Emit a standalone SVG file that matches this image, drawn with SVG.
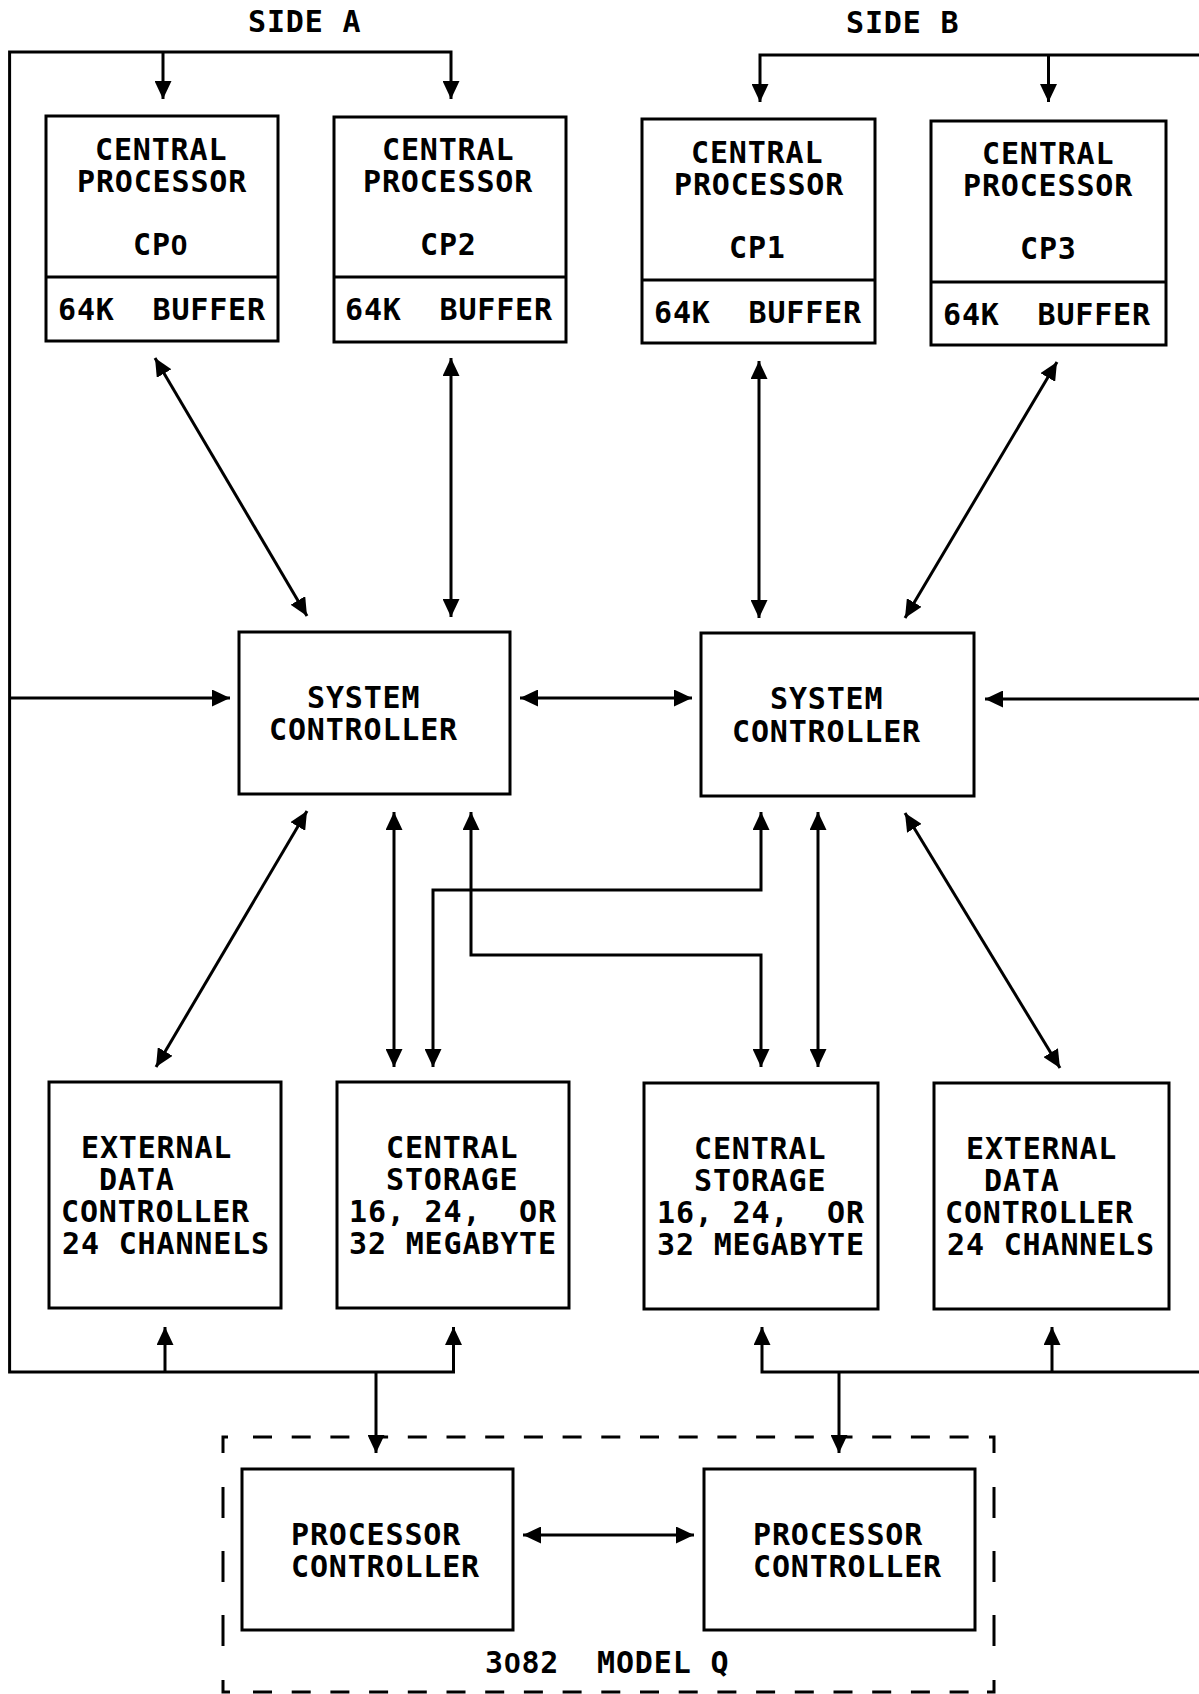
<svg xmlns="http://www.w3.org/2000/svg" width="1199" height="1694" viewBox="0 0 1199 1694">
<style>
.t{font-family:"DejaVu Sans Mono","Liberation Mono",monospace;font-weight:bold;font-size:30px;letter-spacing:0.84px;fill:#000}
.z{font-family:"Liberation Sans","DejaVu Sans",sans-serif}
.box{fill:#fff;stroke:#000;stroke-width:3}
.ln{fill:none;stroke:#000;stroke-width:3;stroke-linejoin:miter}
.dh{fill:none;stroke:#000;stroke-width:3;stroke-dasharray:19 19.7}
.dv{fill:none;stroke:#000;stroke-width:3;stroke-dasharray:31 33}
</style>
<defs>
<marker id="ah" viewBox="0 0 18 17" refX="18" refY="8.5" markerWidth="18" markerHeight="17" markerUnits="userSpaceOnUse" orient="auto-start-reverse"><path d="M0,0 L18,8.5 L0,17 z" fill="#000"/></marker>
</defs>
<rect width="1199" height="1694" fill="#fff"/>
<text class="t" x="248" y="32">SIDE A</text>
<text class="t" x="846" y="33">SIDE B</text>

<g id="connectors">
<path class="ln" d="M451,99 V52 H9.6 V1372 H453.5 V1327" marker-start="url(#ah)" marker-end="url(#ah)"/>
<path class="ln" d="M163,52 V99" marker-end="url(#ah)"/>
<path class="ln" d="M9.6,698 H230" marker-end="url(#ah)"/>
<path class="ln" d="M165,1372 V1327" marker-end="url(#ah)"/>
<path class="ln" d="M376,1372 V1453" marker-end="url(#ah)"/>
<path class="ln" d="M760,102 V55 H1205 V1372 H762 V1327" marker-start="url(#ah)" marker-end="url(#ah)"/>
<path class="ln" d="M1048.5,55 V102" marker-end="url(#ah)"/>
<path class="ln" d="M1205,699 H985" marker-end="url(#ah)"/>
<path class="ln" d="M1052,1372 V1327" marker-end="url(#ah)"/>
<path class="ln" d="M839,1372 V1453" marker-end="url(#ah)"/>
<path class="ln" d="M155,358 L307,616" marker-start="url(#ah)" marker-end="url(#ah)"/>
<path class="ln" d="M451,358 V617" marker-start="url(#ah)" marker-end="url(#ah)"/>
<path class="ln" d="M759,361 V618" marker-start="url(#ah)" marker-end="url(#ah)"/>
<path class="ln" d="M1057,362 L905,618" marker-start="url(#ah)" marker-end="url(#ah)"/>
<path class="ln" d="M520,698 H692" marker-start="url(#ah)" marker-end="url(#ah)"/>
<path class="ln" d="M307,811 L156,1067" marker-start="url(#ah)" marker-end="url(#ah)"/>
<path class="ln" d="M394,812 V1067" marker-start="url(#ah)" marker-end="url(#ah)"/>
<path class="ln" d="M761,812 V890 H433 V1067" marker-start="url(#ah)" marker-end="url(#ah)"/>
<path class="ln" d="M471,812 V955 H761 V1067" marker-start="url(#ah)" marker-end="url(#ah)"/>
<path class="ln" d="M818,812 V1067" marker-start="url(#ah)" marker-end="url(#ah)"/>
<path class="ln" d="M905,813 L1060,1068" marker-start="url(#ah)" marker-end="url(#ah)"/>
<path class="ln" d="M523,1535 H694" marker-start="url(#ah)" marker-end="url(#ah)"/>
</g>

<g id="cp0">
<rect class="box" x="46" y="116" width="232" height="225"/>
<path class="ln" d="M46,277 H278"/>
<text class="t" x="95" y="160">CENTRAL</text>
<text class="t" x="77" y="192">PROCESSOR</text>
<text class="t" x="133" y="255">CP<tspan class="z">0</tspan></text>
<text class="t" x="58" y="320" xml:space="preserve">64K  BUFFER</text>
</g>
<g id="cp2">
<rect class="box" x="334" y="117" width="232" height="225"/>
<path class="ln" d="M334,277 H566"/>
<text class="t" x="382" y="160">CENTRAL</text>
<text class="t" x="363" y="192">PROCESSOR</text>
<text class="t" x="420" y="255">CP2</text>
<text class="t" x="345" y="320" xml:space="preserve">64K  BUFFER</text>
</g>
<g id="cp1">
<rect class="box" x="642" y="119" width="233" height="224"/>
<path class="ln" d="M642,280 H875"/>
<text class="t" x="691" y="163">CENTRAL</text>
<text class="t" x="674" y="195">PROCESSOR</text>
<text class="t" x="729" y="258">CP1</text>
<text class="t" x="654" y="323" xml:space="preserve">64K  BUFFER</text>
</g>
<g id="cp3">
<rect class="box" x="931" y="121" width="235" height="224"/>
<path class="ln" d="M931,282 H1166"/>
<text class="t" x="982" y="164">CENTRAL</text>
<text class="t" x="963" y="196">PROCESSOR</text>
<text class="t" x="1020" y="259">CP3</text>
<text class="t" x="943" y="325" xml:space="preserve">64K  BUFFER</text>
</g>

<g id="sc-left">
<rect class="box" x="239" y="632" width="271" height="162"/>
<text class="t" x="307" y="708">SYSTEM</text>
<text class="t" x="269" y="740">CONTROLLER</text>
</g>
<g id="sc-right">
<rect class="box" x="701" y="633" width="273" height="163"/>
<text class="t" x="770" y="709">SYSTEM</text>
<text class="t" x="732" y="742">CONTROLLER</text>
</g>

<g id="edc-left">
<rect class="box" x="49" y="1082" width="232" height="226"/>
<text class="t" x="81" y="1158">EXTERNAL</text>
<text class="t" x="99" y="1190">DATA</text>
<text class="t" x="61" y="1222">CONTROLLER</text>
<text class="t" x="62" y="1254">24 CHANNELS</text>
</g>
<g id="cs-left">
<rect class="box" x="337" y="1082" width="232" height="226"/>
<text class="t" x="386" y="1158">CENTRAL</text>
<text class="t" x="386" y="1190">STORAGE</text>
<text class="t" x="349" y="1222" xml:space="preserve">16, 24,  OR</text>
<text class="t" x="349" y="1254">32 MEGABYTE</text>
</g>
<g id="cs-right">
<rect class="box" x="644" y="1083" width="234" height="226"/>
<text class="t" x="694" y="1159">CENTRAL</text>
<text class="t" x="694" y="1191">STORAGE</text>
<text class="t" x="657" y="1223" xml:space="preserve">16, 24,  OR</text>
<text class="t" x="657" y="1255">32 MEGABYTE</text>
</g>
<g id="edc-right">
<rect class="box" x="934" y="1083" width="235" height="226"/>
<text class="t" x="966" y="1159">EXTERNAL</text>
<text class="t" x="984" y="1191">DATA</text>
<text class="t" x="945" y="1223">CONTROLLER</text>
<text class="t" x="947" y="1255">24 CHANNELS</text>
</g>

<g id="model-q">
<path class="ln" d="M228,1437 H223 V1453"/>
<path class="dh" d="M253,1437 H975"/>
<path class="ln" d="M989,1437 H994 V1453"/>
<path class="dv" d="M223,1487 V1650"/>
<path class="dv" d="M994,1487 V1650"/>
<path class="ln" d="M223,1680 V1692 H230"/>
<path class="ln" d="M994,1680 V1692 H987"/>
<path class="dh" d="M253,1692 H975"/>
<text class="t" x="485" y="1673" xml:space="preserve">3<tspan class="z">0</tspan>82  MODEL Q</text>
</g>
<g id="pc-left">
<rect class="box" x="242" y="1469" width="271" height="161"/>
<text class="t" x="291" y="1545">PROCESSOR</text>
<text class="t" x="291" y="1577">CONTROLLER</text>
</g>
<g id="pc-right">
<rect class="box" x="704" y="1469" width="271" height="161"/>
<text class="t" x="753" y="1545">PROCESSOR</text>
<text class="t" x="753" y="1577">CONTROLLER</text>
</g>
</svg>
